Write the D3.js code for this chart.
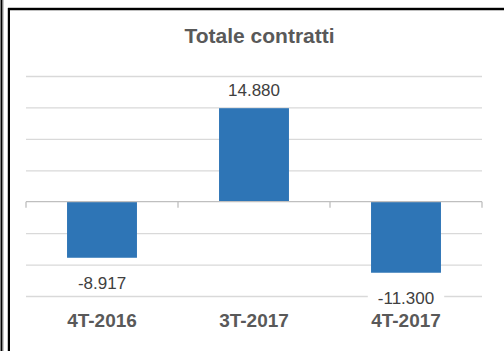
<!DOCTYPE html>
<html>
<head>
<meta charset="utf-8">
<script src="https://cdn.jsdelivr.net/npm/d3@7"></script>
<style>
  html, body { margin: 0; padding: 0; background: #fff; }
  svg { display: block; }
</style>
</head>
<body>
<svg id="chart" width="504" height="351"></svg>
<script>
// Quarterly totals of contracts
const categories = ["4T-2016", "3T-2017", "4T-2017"];
const values = [-8917, 14880, -11300];
const tickValues = [-15000, -10000, -5000, 0, 5000, 10000, 15000, 20000];
const title = "Totale contratti";

const svg = d3.select("#chart");
const W = 504, H = 351;

// outer frame lines
const frame = svg.append("g");
frame.append("rect").attr("x", 0).attr("y", 0).attr("width", W).attr("height", H).attr("fill", "#fff");
frame.append("line").attr("x1", 3.5).attr("x2", 3.5).attr("y1", 0).attr("y2", H).attr("stroke", "#c8c8c8").attr("stroke-width", 1);
frame.append("line").attr("x1", 1.5).attr("x2", 1.5).attr("y1", 0).attr("y2", H).attr("stroke", "#000").attr("stroke-width", 2);
frame.append("line").attr("x1", 7.5).attr("x2", 7.5).attr("y1", 8).attr("y2", H).attr("stroke", "#c8c8c8").attr("stroke-width", 1);
frame.append("line").attr("x1", 8).attr("x2", W).attr("y1", 7.5).attr("y2", 7.5).attr("stroke", "#c8c8c8").attr("stroke-width", 1);
frame.append("line").attr("x1", 9).attr("x2", 9).attr("y1", 8).attr("y2", H).attr("stroke", "#000").attr("stroke-width", 2);
frame.append("line").attr("x1", 8).attr("x2", W).attr("y1", 9.2).attr("y2", 9.2).attr("stroke", "#000").attr("stroke-width", 2.2);

const plotLeft = 26, plotRight = 482, plotTop = 76, plotBottom = 296;

const x = d3.scaleBand().domain(categories).range([plotLeft, plotRight]).paddingInner(0.54).paddingOuter(0.27);
const y = d3.scaleLinear().domain([-15000, 20000]).range([plotBottom, plotTop]);

// title
svg.append("text")
  .attr("x", 259.5).attr("y", 42.5)
  .attr("text-anchor", "middle")
  .attr("font-family", "Liberation Sans, Arial, sans-serif")
  .attr("font-weight", "bold")
  .attr("font-size", 21)
  .attr("fill", "#595959")
  .text(title);

// horizontal gridlines
const yAxis = d3.axisLeft(y).tickValues(tickValues.filter(v => v !== 0)).tickSize(-(plotRight - plotLeft)).tickFormat("");
svg.append("g")
  .attr("transform", `translate(${plotLeft},0)`)
  .call(yAxis)
  .call(g => g.select(".domain").remove())
  .call(g => g.selectAll(".tick line").attr("stroke", "#d9d9d9").attr("stroke-width", 1.3));

// bars
svg.append("g").selectAll("rect")
  .data(values)
  .join("rect")
  .attr("x", (d, i) => x(categories[i]))
  .attr("width", x.bandwidth())
  .attr("y", d => y(Math.max(0, d)))
  .attr("height", d => Math.abs(y(d) - y(0)))
  .attr("fill", "#2e75b6");

// category axis at zero with outward ticks at band boundaries
const zeroY = y(0);
const axisG = svg.append("g");
axisG.append("line")
  .attr("x1", plotLeft).attr("x2", plotRight)
  .attr("y1", zeroY).attr("y2", zeroY)
  .attr("stroke", "#bfbfbf").attr("stroke-width", 1.3);
const boundaries = categories.map(c => x(c) - x.step() * x.paddingInner() / 2).concat([plotRight]);
axisG.selectAll("line.tk")
  .data(boundaries)
  .join("line")
  .attr("class", "tk")
  .attr("x1", d => d).attr("x2", d => d)
  .attr("y1", zeroY).attr("y2", zeroY + 6)
  .attr("stroke", "#bfbfbf").attr("stroke-width", 1.3);

// category labels
svg.append("g").selectAll("text")
  .data(categories)
  .join("text")
  .attr("x", d => x(d) + x.bandwidth() / 2)
  .attr("y", 327)
  .attr("text-anchor", "middle")
  .attr("font-family", "Liberation Sans, Arial, sans-serif")
  .attr("font-weight", "bold")
  .attr("font-size", 19)
  .attr("fill", "#595959")
  .text(d => d);

// value labels with white backing
const fmt = v => d3.format(",")(v).replace(/,/g, ".").replace("−", "-");
const lbl = svg.append("g").selectAll("g")
  .data(values)
  .join("g")
  .attr("transform", (d, i) => {
    const cx = x(categories[i]) + x.bandwidth() / 2;
    const by = d >= 0 ? y(d) - 12 : y(d) + 31;
    return `translate(${cx},${by})`;
  });
lbl.each(function(d) {
  const g = d3.select(this);
  const t = g.append("text")
    .attr("text-anchor", "middle")
    .attr("font-family", "Liberation Sans, Arial, sans-serif")
    .attr("font-size", 17)
    .attr("fill", "#404040")
    .text(fmt(d));
  const bb = t.node().getBBox();
  g.insert("rect", "text")
    .attr("x", bb.x - 10).attr("y", bb.y - 2)
    .attr("width", bb.width + 20).attr("height", bb.height + 4)
    .attr("fill", "#fff");
});
</script>
</body>
</html>
